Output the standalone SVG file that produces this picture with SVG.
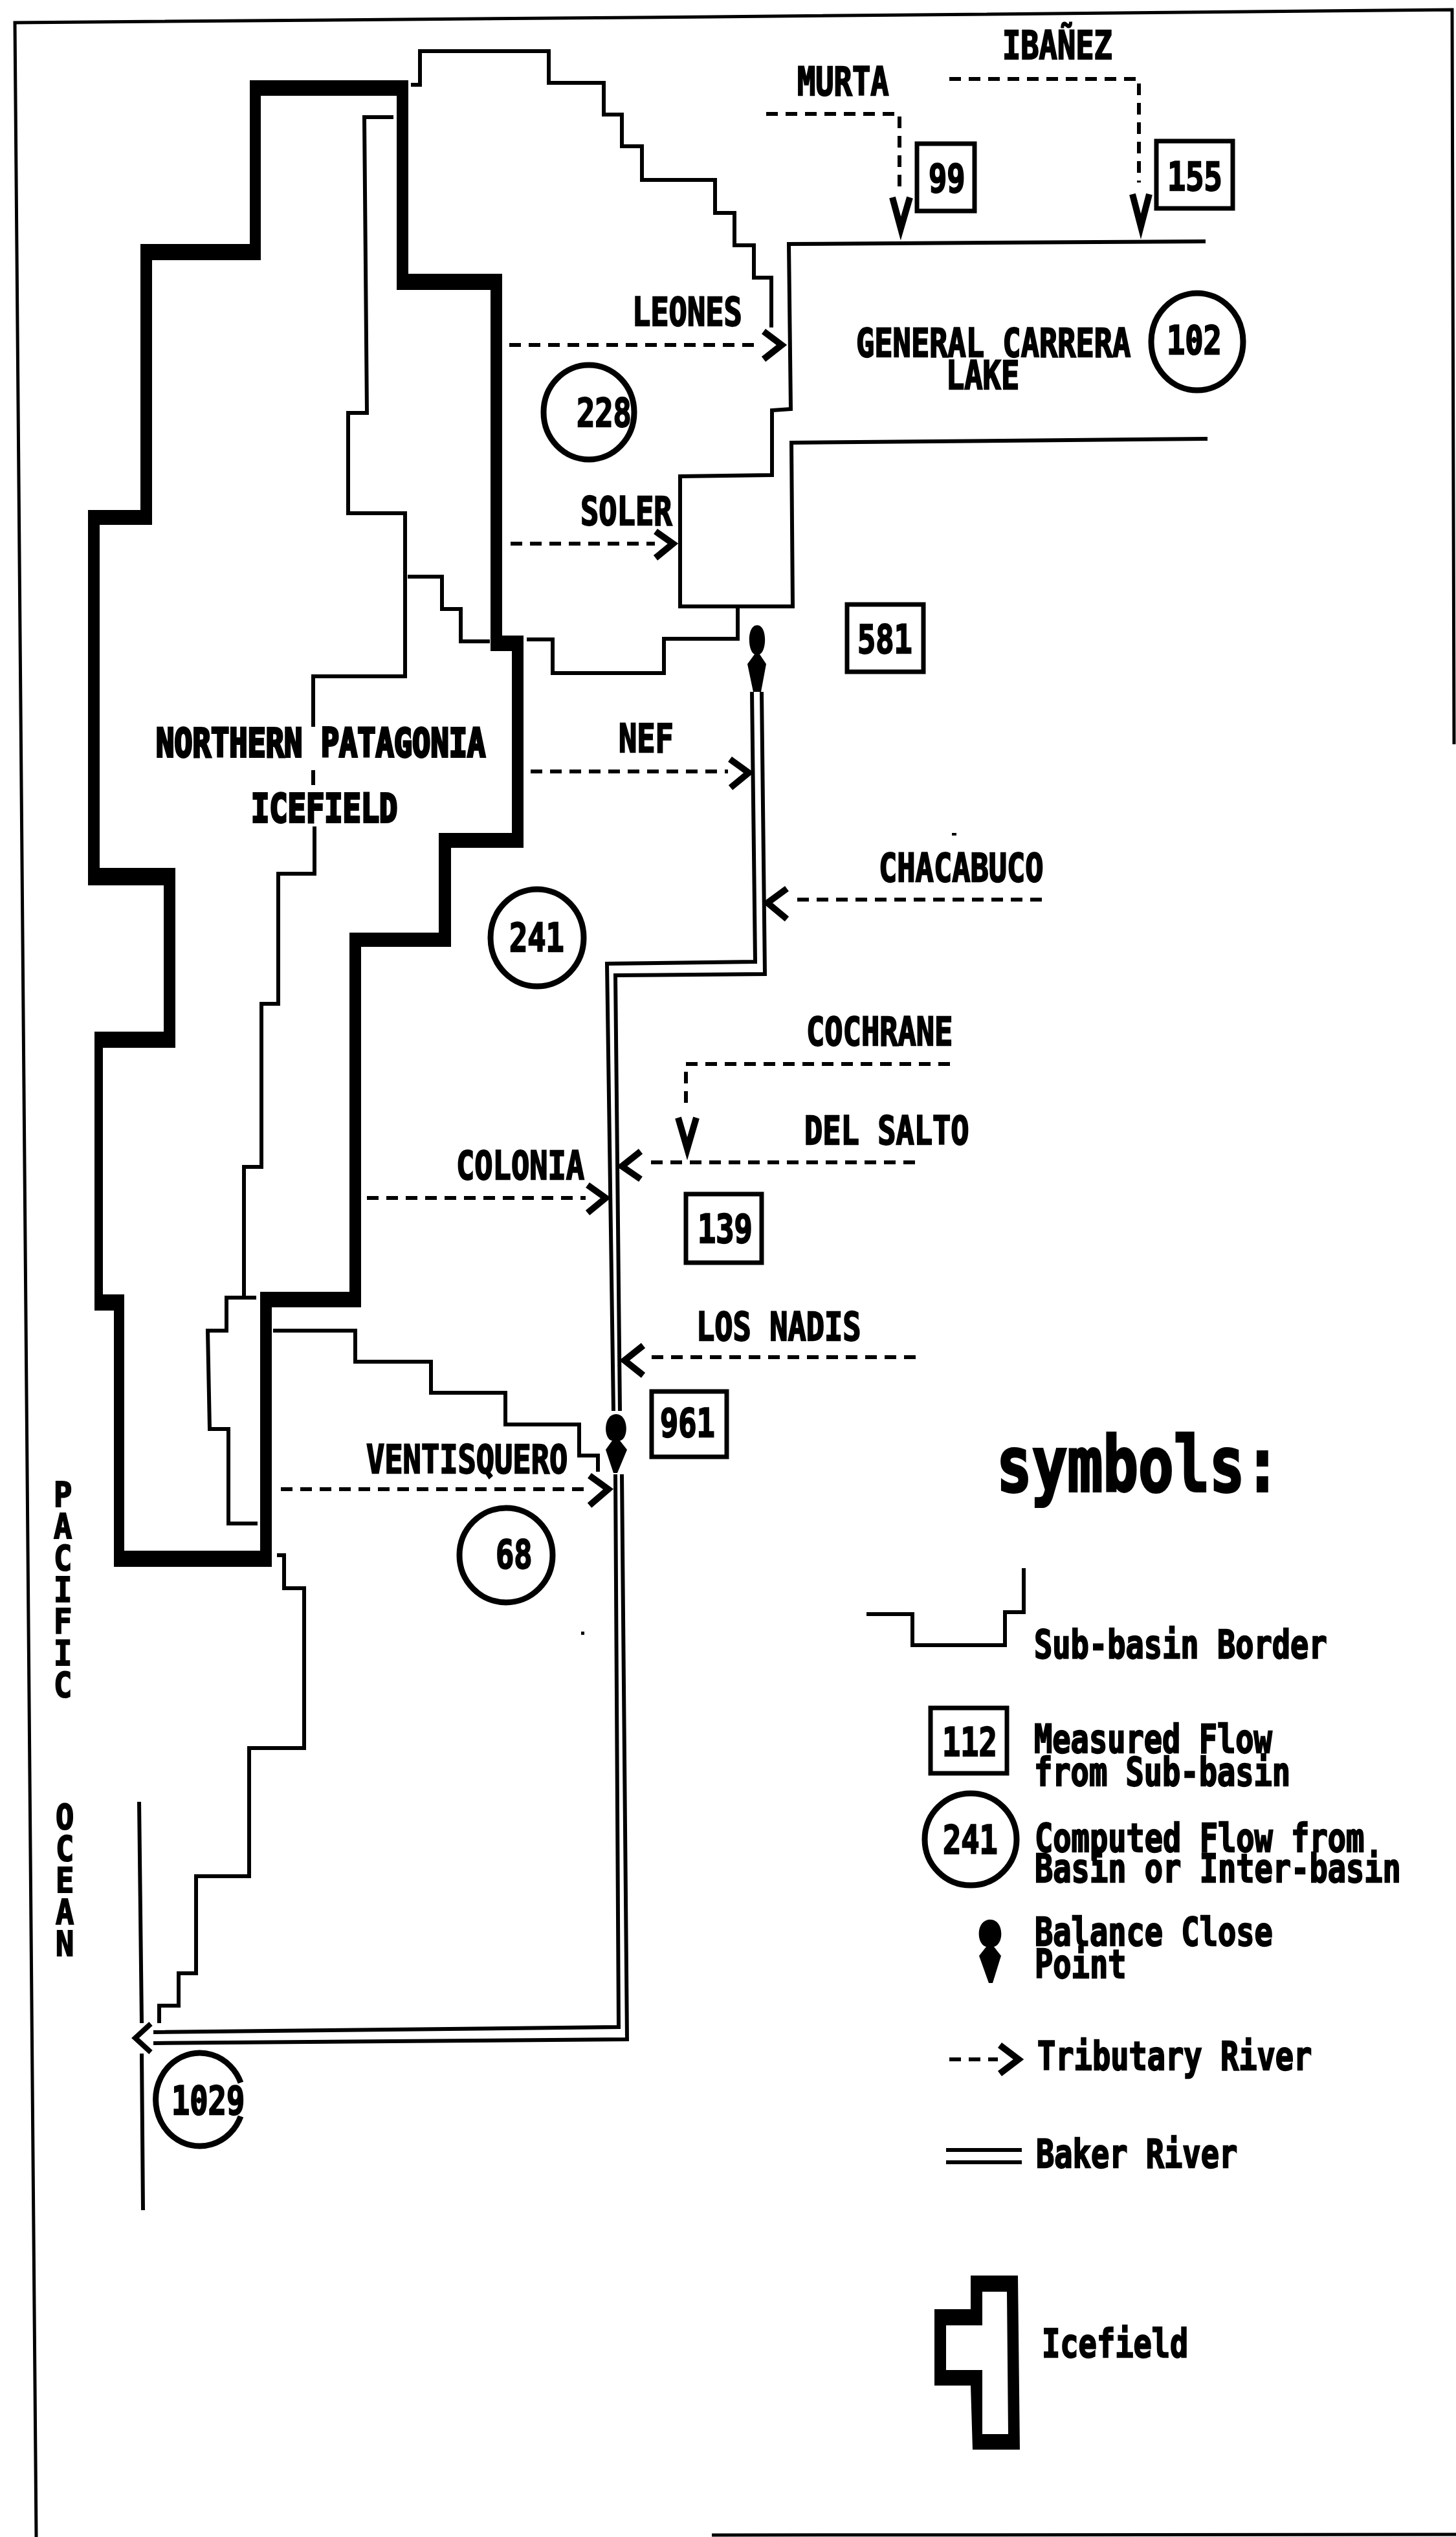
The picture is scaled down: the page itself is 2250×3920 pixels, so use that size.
<svg xmlns="http://www.w3.org/2000/svg" width="2250" height="3920" viewBox="0 0 2250 3920">
<style>
text{font-family:"DejaVu Sans Mono","Liberation Mono",monospace;font-weight:700;font-size:47px;fill:#000;stroke:#000;stroke-width:1.8}
.s{fill:none;stroke:#000;stroke-width:6;stroke-linejoin:miter}
.f{fill:none;stroke:#000;stroke-width:5}
.d{fill:none;stroke:#000;stroke-width:6;stroke-dasharray:18 12}
.h{fill:none;stroke:#000;stroke-width:10}
.b{fill:none;stroke:#000;stroke-width:7}
.c{fill:none;stroke:#000;stroke-width:9}
.k{fill:#000;stroke:none}
</style>
<rect width="2250" height="3920" fill="#fff"/>
<g id="frame">
<path class="f" d="M56 3920L23 35L1100 26L2244 15L2247 1150"/>
<path class="f" d="M1100 3917L2250 3916"/>
</g>
<g id="icefield">
<path class="k" fill-rule="evenodd" d="M386 124H631V423H776V982H809V1310H697V1463H558V2020H420V2421H176V2025H146V1594H253V1368H136V788H217V377H386ZM403 148V402H235V811H154V1341H271V1619H159V2000H192V2396H402V1996H540V1441H678V1287H791V1006H758V448H613V148Z"/>
<text id="icefield-label-1" transform="translate(241 1169) scale(1 1.3)" style="stroke-width:3">NORTHERN PATAGONIA</text>
<text id="icefield-label-2" transform="translate(388 1270) scale(1 1.3)" style="stroke-width:3">ICEFIELD</text>
</g>
<g id="sub-basin-borders">
<path class="s" d="M608 181H563L567 638H538V793H626V1045H484V1123"/>
<path class="s" d="M484 1190V1213M486 1277V1350H430V1551H404V1803H377V2005H350V2056H321L324 2208H353V2354H398"/>
<path class="s" d="M377 2005H396"/>
<path class="s" d="M630 891H683V941H712V991H757"/>
<path class="s" d="M635 131H649V79H848V128H933V177H961V226H992V278H1105V329H1135V379H1165V429H1192V506"/>
<path class="s" d="M1863 373L1219 377L1222 632L1193 634V734L1051 736V937H1225L1223 684L1866 678"/>
<path class="s" d="M1140 937V987H1026V1040H854V988H814"/>
<path class="s" d="M422 2056H549V2104H666V2152H781V2201H895V2249H924V2274"/>
<path class="s" d="M428 2403H439V2454H470V2701H385V2899H303V3049H276V3099H246V3126"/>
<path class="s" d="M215 2784L219 3126M219 3173L221 3415"/>
<rect class="k" x="898" y="2521" width="5" height="5"/>
<rect class="k" x="1471" y="1287" width="7" height="4"/>
</g>
<g id="connectors">
<path class="d" d="M787 533H1177"/><path class="h" d="M1180 512L1208 533L1180 555"/>
<path class="d" d="M789 840H1012"/><path class="h" d="M1013 821L1040 840L1013 862"/>
<path class="d" d="M820 1192H1125"/><path class="h" d="M1128 1173L1157 1194L1129 1217"/>
<path class="d" d="M1610 1390H1221"/><path class="h" d="M1216 1373L1186 1395L1216 1420"/>
<path class="d" d="M1468 1644H1060V1710"/><path class="h" d="M1048 1727L1062 1775L1076 1727"/>
<path class="d" d="M1414 1796H997"/><path class="h" d="M990 1779L961 1802L990 1822"/>
<path class="d" d="M1415 2097H1001"/><path class="h" d="M994 2079L965 2102L994 2125"/>
<path class="d" d="M567 1851H905"/><path class="h" d="M908 1831L936 1851L908 1874"/>
<path class="d" d="M434 2301H911"/><path class="h" d="M911 2280L940 2301L911 2326"/>
<path class="d" d="M1184 176H1390V294"/><path class="h" d="M1379 305L1392 353L1406 305"/>
<path class="d" d="M1467 122H1760V282"/><path class="h" d="M1750 300L1763 350L1776 300"/>
<path class="s" d="M1162 1069L1167 1486L938 1489L948 2180"/>
<path class="s" d="M1177 1069L1182 1505L951 1507L958 2180"/>
<path class="s" d="M951 2278L956 3132L237 3140"/>
<path class="s" d="M961 2278L969 3151L237 3157"/>
<path class="s" d="M233 3127L209 3149L233 3171" style="stroke-width:8"/>
<path class="k" d="M1170 966C1186 966 1185 1006 1174 1011L1184 1026L1176 1069H1164L1155 1026L1166 1011C1155 1006 1154 966 1170 966Z"/>
<path class="k" d="M952 2185C972 2185 972 2224 958 2226L969 2240L954 2276H948L936 2240L946 2226C932 2224 932 2185 952 2185Z"/>
</g>
<g id="node-228"><ellipse class="c" cx="910" cy="637" rx="70" ry="73"/><text transform="translate(891 659) scale(1 1.3)">228</text></g>
<g id="node-102"><ellipse class="c" cx="1850" cy="528" rx="71" ry="75"/><text transform="translate(1803 547) scale(1 1.3)">102</text></g>
<g id="node-241"><ellipse class="c" cx="830" cy="1449" rx="72" ry="75"/><text transform="translate(787 1470) scale(1 1.3)">241</text></g>
<g id="node-68"><ellipse class="c" cx="782" cy="2403" rx="72" ry="73"/><text transform="translate(766 2423) scale(1 1.3)">68</text></g>
<g id="node-1029"><path class="c" d="M372 3218A68 72 0 1 0 372 3270"/><text transform="translate(265 3267) scale(1 1.3)">1029</text></g>
<g id="node-99"><rect class="b" x="1417" y="222" width="89" height="104"/><text transform="translate(1435 297) scale(1 1.3)">99</text></g>
<g id="node-155"><rect class="b" x="1787" y="218" width="118" height="104"/><text transform="translate(1804 294) scale(1 1.3)">155</text></g>
<g id="node-581"><rect class="b" x="1309" y="934" width="118" height="104"/><text transform="translate(1325 1009) scale(1 1.3)">581</text></g>
<g id="node-139"><rect class="b" x="1060" y="1845" width="117" height="106"/><text transform="translate(1078 1920) scale(1 1.3)">139</text></g>
<g id="node-961"><rect class="b" x="1007" y="2150" width="116" height="101"/><text transform="translate(1020 2220) scale(1 1.3)">961</text></g>
<g id="labels">
<text transform="translate(977 503) scale(1 1.3)">LEONES</text>
<text transform="translate(897 811) scale(1 1.3)">SOLER</text>
<text transform="translate(956 1162) scale(1 1.3)">NEF</text>
<text transform="translate(1232 147) scale(1 1.3)">MURTA</text>
<text transform="translate(1549 91) scale(1 1.3)">IBAÑEZ</text>
<text transform="translate(1323 551) scale(1 1.3)">GENERAL CARRERA</text>
<text transform="translate(1462 601) scale(1 1.3)">LAKE</text>
<text transform="translate(1358 1362) scale(1 1.3)">CHACABUCO</text>
<text transform="translate(1246 1615) scale(1 1.3)">COCHRANE</text>
<text transform="translate(1243 1768) scale(1 1.3)">DEL SALTO</text>
<text transform="translate(1076 2071) scale(1 1.3)">LOS NADIS</text>
<text transform="translate(705 1822) scale(1 1.3)">COLONIA</text>
<text transform="translate(566 2276) scale(1 1.3)">VENTISQUERO</text>
<text transform="translate(83 2328) scale(1 1.15)" x="0 0 0 0 0 0 0" y="0 42.6 85.2 127.8 170.4 213 255.6">PACIFIC</text>
<text transform="translate(86 2826) scale(1 1.15)" x="0 0 0 0 0" y="0 42.6 85.2 127.8 170.4">OCEAN</text>
</g>
<g id="legend">
<text transform="translate(1540 2304) scale(1 1.3)" style="font-size:91px;stroke-width:3">symbols:</text>
<path class="s" d="M1339 2494H1410V2542H1553V2491H1582V2423"/>
<text transform="translate(1598 2562) scale(1 1.3)">Sub-basin Border</text>
<rect class="b" x="1438" y="2639" width="118" height="101"/>
<text transform="translate(1456 2713) scale(1 1.3)">112</text>
<text transform="translate(1598 2708) scale(1 1.3)">Measured Flow</text>
<text transform="translate(1598 2759) scale(1 1.3)">from Sub-basin</text>
<ellipse class="c" cx="1500" cy="2842" rx="71" ry="71"/>
<text transform="translate(1457 2864) scale(1 1.3)">241</text>
<text transform="translate(1599 2861) scale(1 1.3)">Computed Flow from</text>
<text transform="translate(1599 2908) scale(1 1.3)">Basin or Inter-basin</text>
<path class="k" d="M1530 2966C1552 2966 1552 3004 1536 3008L1547 3022L1534 3064H1528L1513 3022L1524 3008C1508 3004 1508 2966 1530 2966Z"/>
<text transform="translate(1599 3006) scale(1 1.3)">Balance Close</text>
<text transform="translate(1599 3056) scale(1 1.3)">Point</text>
<path class="d" d="M1467 3182H1542"/><path class="h" d="M1545 3160L1574 3182L1545 3204"/>
<text transform="translate(1603 3198) scale(1 1.3)">Tributary River</text>
<path class="s" d="M1462 3322H1579M1462 3341H1579"/>
<text transform="translate(1601 3349) scale(1 1.3)">Baker River</text>
<path class="k" fill-rule="evenodd" d="M1500 3516H1573L1576 3785H1503L1500 3686H1444V3568H1500ZM1518 3541V3593H1462V3662H1518V3761H1558L1556 3541Z"/>
<text transform="translate(1610 3642) scale(1 1.3)">Icefield</text>
</g>
</svg>
